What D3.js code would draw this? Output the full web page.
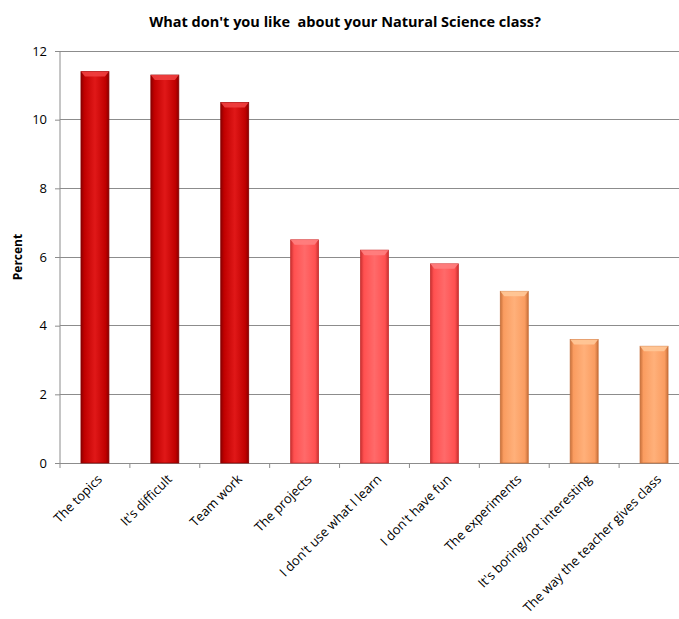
<!DOCTYPE html>
<html><head><meta charset="utf-8">
<script src="https://cdn.jsdelivr.net/npm/d3@7"></script>
<style>body{margin:0;background:#fff}svg{display:block}</style>
</head><body>
<svg id="c" width="679" height="619"></svg>
<script>
const categories = ["The topics","It's difficult","Team work","The projects","I don't use what I learn","I don't have fun","The experiments","It's boring/not interesting","The way the teacher gives class"];
const values = [11.4, 11.3, 10.5, 6.5, 6.2, 5.8, 5.0, 3.6, 3.4];
const groups = [0,0,0,1,1,1,2,2,2];
const yTicks = [0,2,4,6,8,10,12];
const title = "What don't you like  about your Natural Science class?";
const yLabel = "Percent";

const svg = d3.select("#c");
const font = "'Open Sans', 'DejaVu Sans', sans-serif";
const x = d3.scaleBand().domain(categories).range([60, 689]).paddingInner(0.6).paddingOuter(0.3);
const y = d3.scaleLinear().domain([0, 12]).range([463, 51]);

const palettes = [
  {mid:"#c00000", light:"#e01818", dark:"#8a0000", top:"#f04040"},
  {mid:"#ff5050", light:"#ff6a6a", dark:"#c83030", top:"#ff8080"},
  {mid:"#fa9c60", light:"#ffb07a", dark:"#c8703a", top:"#ffc898"}
];
const defs = svg.append("defs");
palettes.forEach((p,i)=>{
  const g = defs.append("linearGradient").attr("id","g"+i).attr("x1",0).attr("x2",1).attr("y1",0).attr("y2",0);
  g.append("stop").attr("offset","0%").attr("stop-color",p.dark);
  g.append("stop").attr("offset","12%").attr("stop-color",p.mid);
  g.append("stop").attr("offset","50%").attr("stop-color",p.light);
  g.append("stop").attr("offset","88%").attr("stop-color",p.mid);
  g.append("stop").attr("offset","100%").attr("stop-color",p.dark);
});

// gridlines
svg.append("g").selectAll("line").data(yTicks.filter(d=>d>0)).join("line")
  .attr("x1",60).attr("x2",679).attr("y1",d=>y(d)).attr("y2",d=>y(d))
  .attr("stroke","#8c8c8c").attr("stroke-width",1).attr("shape-rendering","crispEdges");

// y axis
const ya = svg.append("g").attr("transform","translate(60,0)")
  .call(d3.axisLeft(y).tickValues(yTicks).tickSize(5).tickPadding(8).tickFormat(d3.format("d")));
ya.select(".domain").attr("stroke","#8c8c8c").attr("d","M0,"+y(12)+"V"+y(0));
ya.selectAll(".tick line").attr("stroke","#8c8c8c");
ya.selectAll("text").attr("font-family",font).attr("font-size",13).attr("fill","#000");

// x axis
const xa = svg.append("g").attr("transform","translate(0,463)");
xa.append("line").attr("x1",60).attr("x2",679).attr("stroke","#8c8c8c").attr("shape-rendering","crispEdges");
const step = x.step();
const boundaries = [x(categories[0]) - x.step()*x.paddingInner()/2].concat(categories.map(c=>x(c)+x.bandwidth()+x.step()*x.paddingInner()/2));
xa.selectAll("line.t").data(boundaries.map(b=>x.range()[0] + Math.round((b - x.range()[0])/step)*step)).join("line").attr("class","t")
  .attr("x1",d=>d).attr("x2",d=>d)
  .attr("y1",0).attr("y2",5).attr("stroke","#8c8c8c");

xa.selectAll("text").data(categories).join("text")
  .attr("transform",d=>`translate(${x(d)+x.bandwidth()/2+8},17) rotate(-45)`)
  .attr("text-anchor","end").attr("font-family",font).attr("font-size",13).attr("fill","#000")
  .text(d=>d);

// bars
const bars = svg.append("g").selectAll("g").data(categories).join("g");
bars.append("rect")
  .attr("x",d=>x(d)).attr("width",x.bandwidth())
  .attr("y",(d,i)=>y(values[i])).attr("height",(d,i)=>y(0)-y(values[i]))
  .attr("fill",(d,i)=>`url(#g${groups[i]})`)
  .attr("stroke",(d,i)=>palettes[groups[i]].dark).attr("stroke-width",0.8);
bars.append("path")
  .attr("d",(d,i)=>{const x0=x(d), w=x.bandwidth(), t=y(values[i]);
    return `M${x0},${t}H${x0+w}L${x0+w-4},${t+5}H${x0+4}Z`;})
  .attr("fill",(d,i)=>palettes[groups[i]].top).attr("opacity",0.9);

// title
svg.append("text").attr("x",345).attr("y",27).attr("text-anchor","middle")
  .style("white-space","pre")
  .attr("font-family",font).attr("font-weight","bold").attr("font-size",14.5).text(title);
// y label
svg.append("text").attr("transform","translate(22,257) rotate(-90)").attr("text-anchor","middle")
  .attr("font-family",font).attr("font-weight","bold").attr("font-size",12).text(yLabel);
</script>
</body></html>
